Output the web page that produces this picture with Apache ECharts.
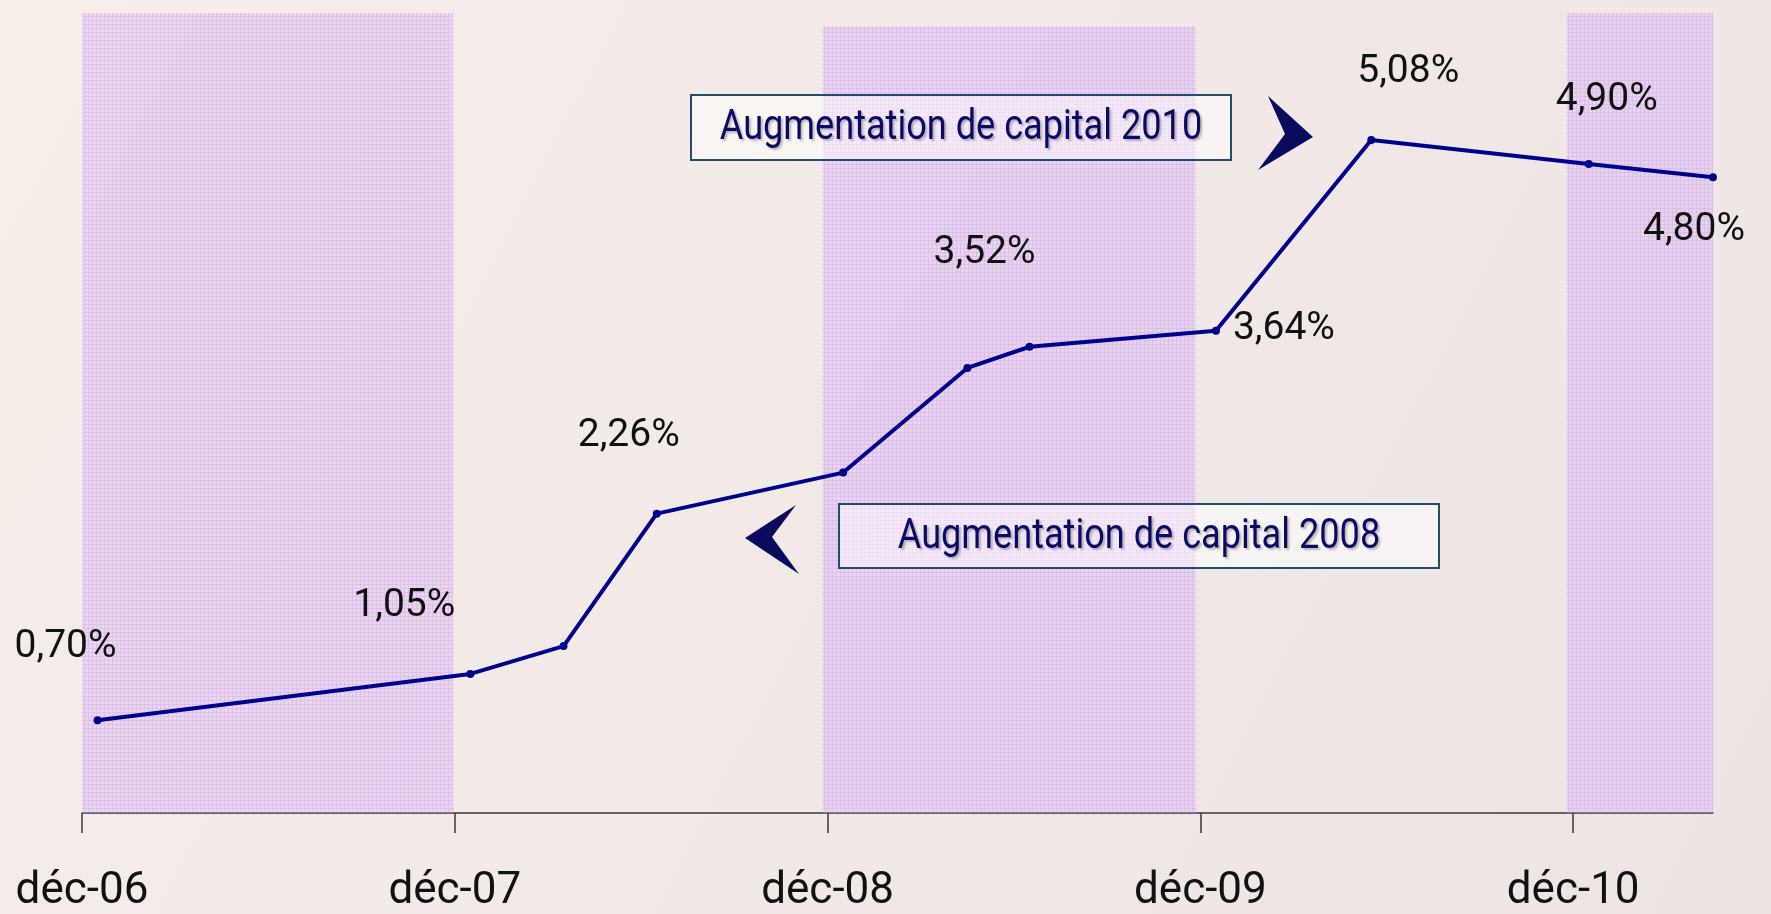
<!DOCTYPE html>
<html>
<head>
<meta charset="utf-8">
<title>Augmentation de capital</title>
<script src="https://cdn.jsdelivr.net/npm/echarts@6/dist/echarts.min.js"></script>
<style>
	html, body { margin: 0; padding: 0; }
	#container { width: 1771px; height: 914px; }
</style>
</head>
<body>
<div id="container"></div>
<script>
// donnees (mois depuis dec-06, taux en %)
var months = [0.5, 12.5, 15.5, 18.5, 24.5, 28.5, 30.5, 36.5, 41.5, 48.5, 52.5];
var rates = [0.70, 1.05, 1.26, 2.26, 2.57, 3.36, 3.52, 3.64, 5.08, 4.90, 4.80];
var shown = [true, true, false, true, false, false, true, true, true, true, true];

var tickMonths = [0, 12, 24, 36, 48];
var tickLabels = ['déc-06', 'déc-07', 'déc-08', 'déc-09', 'déc-10'];

// bandes violettes (annees alternees)
var bandStart = [-0.1, 23.85, 47.8];
var bandEnd = [11.95, 35.85, 52.6];
var bandTop = [6.04, 5.94, 6.04];

// decalage des etiquettes (px)
var labelOffsets = [[-32, -73], [-66, -68], null, [-28, -77], null, null,
	[-45, -93], [68, -2], [37, -68], [18, -64], [-19, 53]];

var FONT = "Roboto, 'DejaVu Sans Condensed', sans-serif";

function make_pattern()
{
	var c = document.createElement('canvas');
	c.width = 4;
	c.height = 4;
	var ctx = c.getContext('2d');
	ctx.fillStyle = 'rgba(208,158,252,0.26)';
	ctx.fillRect(0, 0, 4, 4);
	ctx.fillStyle = 'rgba(180,120,248,0.26)';
	ctx.fillRect(0, 0, 4, 1);
	ctx.fillRect(0, 1, 1, 3);
	return c;
}

function fmt(v)
{
	return v.toFixed(2).replace('.', ',') + '%';
}

window.onload = function() {
	var dom = document.getElementById("container");
	var myChart = echarts.init(dom);

	var lineData = [];
	for (var i = 0; i < months.length; i++) {
		var item = { value: [months[i], rates[i]] };
		if (shown[i]) {
			item.label = {
				show: true,
				position: 'inside',
				offset: labelOffsets[i],
				formatter: fmt(rates[i])
			};
		}
		lineData.push(item);
	}

	var areas = [];
	for (var j = 0; j < bandStart.length; j++) {
		areas.push([
			{ coord: [bandStart[j], bandTop[j]] },
			{ coord: [bandEnd[j], 0] }
		]);
	}

	var option = {
		backgroundColor: {
			type: 'linear', x: 0, y: 0, x2: 1, y2: 1,
			colorStops: [{ offset: 0, color: '#f6eee9' }, { offset: 1, color: '#ede5e4' }]
		},
		animation: false,
		grid: { left: 82, right: 58, top: 5, bottom: 98 },
		xAxis: {
			type: 'value',
			min: 0,
			max: 52.5,
			splitLine: { show: false },
			axisLine: { lineStyle: { color: '#3a3a3a', width: 1.5 } },
			axisTick: {
				show: true,
				customValues: tickMonths,
				length: 20,
				lineStyle: { color: '#3a3a3a', width: 1.5 }
			},
			axisLabel: {
				customValues: tickMonths,
				margin: 57,
				fontFamily: FONT,
				fontSize: 44,
				color: '#111',
				formatter: function(v) {
					var k = tickMonths.indexOf(v);
					return k >= 0 ? tickLabels[k] : '';
				}
			}
		},
		yAxis: {
			type: 'value',
			min: 0,
			max: 6.1,
			show: false,
			splitLine: { show: false }
		},
		series: [
			{
				name: 'taux',
				type: 'line',
				z: 2,
				data: lineData,
				symbol: 'circle',
				symbolSize: 8,
				lineStyle: { color: '#00008c', width: 4 },
				itemStyle: { color: '#00008c' },
				label: {
					show: false,
					fontFamily: FONT,
					fontSize: 39,
					color: '#111',
					align: 'center',
					verticalAlign: 'middle'
				}
			},
			{
				name: 'bandes',
				type: 'line',
				z: 5,
				clip: false,
				data: [],
				markArea: {
					silent: true,
					itemStyle: { color: { image: make_pattern(), repeat: 'repeat' } },
					data: areas
				}
			}
		],
		graphic: [
			{
				type: 'rect', z: 100,
				shape: { x: 691, y: 95, width: 540, height: 65 },
				style: { fill: 'rgba(255,255,255,0.5)', stroke: '#1f4d6b', lineWidth: 2 }
			},
			{
				type: 'text', z: 101,
				x: 961, y: 128, scaleX: 0.86,
				style: {
					text: 'Augmentation de capital 2010',
					fontFamily: FONT, fontSize: 42, fill: '#0a0a66',
					align: 'center', verticalAlign: 'middle',
					textShadowColor: 'rgba(0,0,0,0.25)', textShadowOffsetX: 2, textShadowOffsetY: 2, textShadowBlur: 2
				}
			},
			{
				type: 'polygon', z: 101,
				shape: { points: [[1268, 96], [1313, 137], [1258, 170], [1285, 134]] },
				style: { fill: '#0a0a5e' }
			},
			{
				type: 'rect', z: 100,
				shape: { x: 839, y: 504, width: 600, height: 64 },
				style: { fill: 'rgba(255,255,255,0.5)', stroke: '#1f4d6b', lineWidth: 2 }
			},
			{
				type: 'text', z: 101,
				x: 1139, y: 537, scaleX: 0.86,
				style: {
					text: 'Augmentation de capital 2008',
					fontFamily: FONT, fontSize: 42, fill: '#0a0a66',
					align: 'center', verticalAlign: 'middle',
					textShadowColor: 'rgba(0,0,0,0.25)', textShadowOffsetX: 2, textShadowOffsetY: 2, textShadowBlur: 2
				}
			},
			{
				type: 'polygon', z: 101,
				shape: { points: [[745, 538], [796, 505], [772, 537], [799, 574]] },
				style: { fill: '#0a0a5e' }
			}
		]
	};
	if (option && typeof option === "object") {
		myChart.setOption(option, true);
	}
};
</script>
</body>
</html>
